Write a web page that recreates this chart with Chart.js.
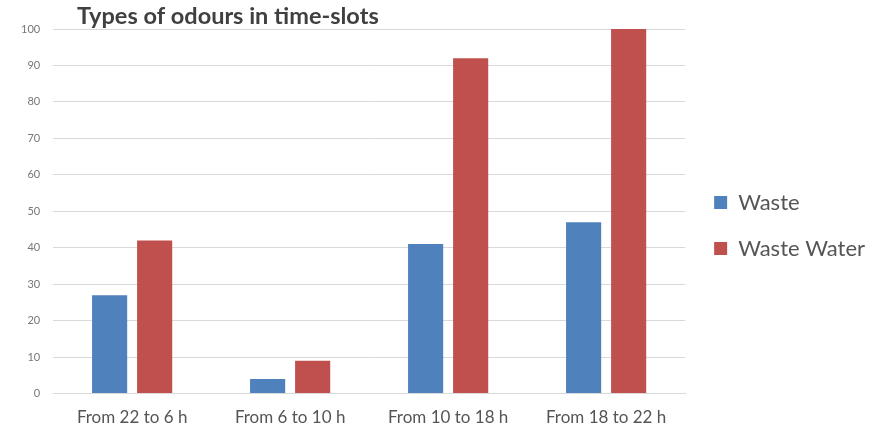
<!DOCTYPE html>
<html>
<head>
<meta charset="utf-8">
<script src="https://cdn.jsdelivr.net/npm/chart.js@4/dist/chart.umd.min.js"></script>
<style>
  html, body { margin: 0; padding: 0; background: #ffffff; }
  #wrap { width: 878px; height: 430px; }
</style>
</head>
<body>
<div id="wrap"><canvas id="c" width="878" height="430"></canvas></div>
<script>
const categories = ["From 22 to 6 h", "From 6 to 10 h", "From 10 to 18 h", "From 18 to 22 h"];
const wasteValues = [27, 4, 41, 47];
const wasteWaterValues = [42, 9, 92, 100];
const yTicks = [0, 10, 20, 30, 40, 50, 60, 70, 80, 90, 100];
const chartTitle = "Types of odours in time-slots";

// Title sits at the top-left, overlapping the plot's upper margin
const titlePlugin = {
  id: 'leftTitle',
  afterDraw(chart) {
    const ctx = chart.ctx;
    ctx.save();
    ctx.font = 'bold 23.5px Lato';
    ctx.fillStyle = '#404040';
    ctx.textAlign = 'left';
    ctx.textBaseline = 'alphabetic';
    ctx.fillText(chartTitle, 77, 24);
    ctx.restore();
  }
};

// Nudge the side legend a little up and to the right of its default slot
const legendNudge = {
  id: 'legendNudge',
  afterLayout(chart) {
    const lg = chart.legend;
    if (!lg) return;
    lg.top -= 10; lg.bottom -= 10;
    lg.left += 5; lg.right += 5;
  }
};

new Chart(document.getElementById('c'), {
  type: 'bar',
  data: {
    labels: categories,
    datasets: [
      { label: 'Waste', data: wasteValues, backgroundColor: '#4f81bd',
        categoryPercentage: 0.57, barPercentage: 0.78 },
      { label: 'Waste Water', data: wasteWaterValues, backgroundColor: '#c0504d',
        categoryPercentage: 0.57, barPercentage: 0.78 }
    ]
  },
  options: {
    responsive: false,
    animation: false,
    layout: { padding: { top: 29, right: 8, bottom: -12, left: 8 } },
    plugins: {
      title: { display: false },
      tooltip: { enabled: false },
      legend: {
        position: 'right',
        align: 'center',
        labels: {
          boxWidth: 13,
          boxHeight: 13,
          padding: 24,
          color: '#555555',
          font: { family: 'Lato', size: 22 }
        }
      }
    },
    scales: {
      x: {
        grid: { display: false, drawTicks: false },
        border: { display: true, color: '#d9d9d9' },
        ticks: { color: '#555555', font: { family: 'Lato', size: 17 }, padding: 14 }
      },
      y: {
        min: 0,
        max: 100,
        afterBuildTicks(axis) { axis.ticks = yTicks.map(v => ({ value: v })); },
        grid: { color: '#d9d9d9', drawTicks: false },
        border: { display: false },
        ticks: { color: '#777777', font: { family: 'Lato', size: 11 }, padding: 13 }
      }
    }
  },
  plugins: [titlePlugin, legendNudge]
});
</script>
</body>
</html>
